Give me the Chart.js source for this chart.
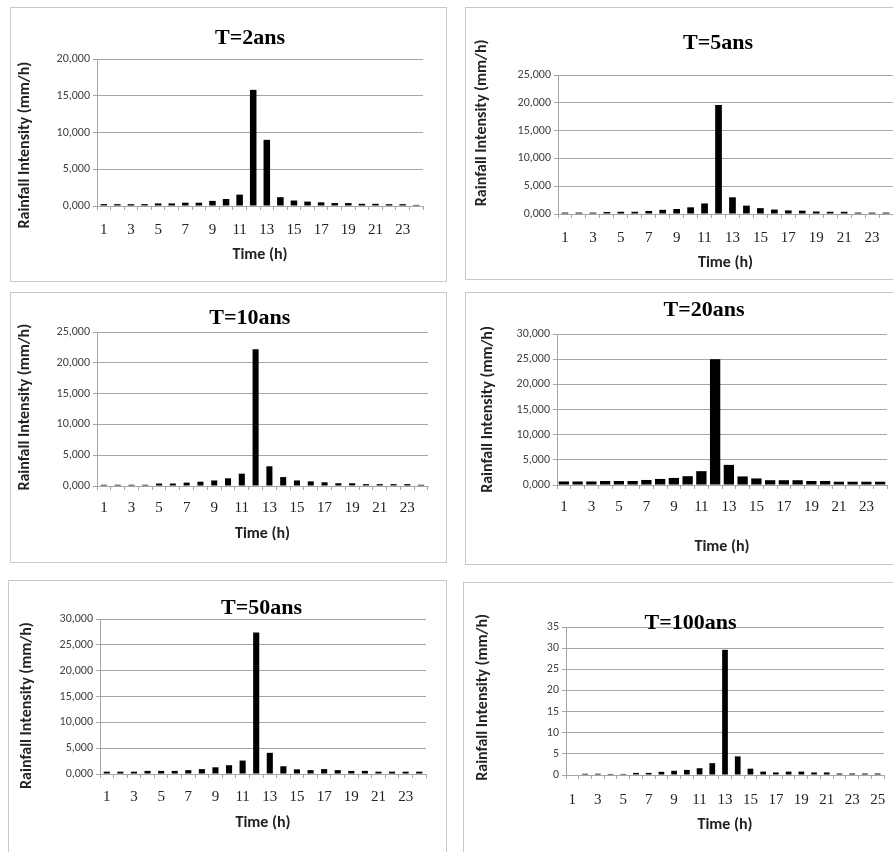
<!DOCTYPE html>
<html>
<head>
<meta charset="utf-8">
<script src="https://cdn.jsdelivr.net/npm/chart.js@4.4.1/dist/chart.umd.min.js"></script>
<style>
  body { margin: 0; background: #fff; }
  #page { position: relative; width: 893px; height: 852px; overflow: hidden; background: #fff; }
  .panel { position: absolute; border: 1px solid #c8c8c8; background: #fff; }
  .panel canvas { position: absolute; left: 0; top: 0; }
</style>
</head>
<body>
<div id="page"></div>
<script>
// categories (hours)
const hours24 = ['1','2','3','4','5','6','7','8','9','10','11','12','13','14','15','16','17','18','19','20','21','22','23','24'];
const hours25 = ['1','2','3','4','5','6','7','8','9','10','11','12','13','14','15','16','17','18','19','20','21','22','23','24','25'];

// rainfall intensity (mm/h)
const rainT2   = [0.25,0.25,0.25,0.25,0.35,0.35,0.45,0.45,0.7,0.95,1.55,15.8,9.0,1.2,0.75,0.6,0.5,0.4,0.4,0.3,0.3,0.25,0.25,0.15];
const rainT5   = [0.25,0.25,0.25,0.35,0.4,0.4,0.55,0.75,0.9,1.2,1.9,19.6,3.0,1.5,1.05,0.8,0.65,0.6,0.45,0.4,0.4,0.25,0.25,0.25];
const rainT10  = [0.2,0.2,0.2,0.2,0.4,0.4,0.55,0.7,0.9,1.25,2.0,22.2,3.2,1.45,0.9,0.75,0.6,0.45,0.45,0.3,0.3,0.3,0.3,0.2];
const rainT20  = [0.7,0.7,0.7,0.8,0.8,0.8,1.0,1.2,1.4,1.75,2.75,25.0,4.0,1.7,1.3,0.95,0.95,0.95,0.8,0.8,0.65,0.65,0.65,0.65];
const rainT50  = [0.45,0.45,0.45,0.6,0.6,0.6,0.75,0.95,1.3,1.7,2.6,27.4,4.1,1.5,0.9,0.75,0.95,0.75,0.6,0.6,0.45,0.45,0.45,0.45];
const rainT100 = [0,0.3,0.3,0.25,0.25,0.5,0.5,0.75,1.0,1.2,1.6,2.8,29.6,4.4,1.5,0.8,0.6,0.8,0.8,0.6,0.6,0.35,0.35,0.35,0.35];

// y axis ranges
const yMaxT2 = 20, yMaxT5 = 25, yMaxT10 = 25, yMaxT20 = 30, yMaxT50 = 30, yMaxT100 = 35;
const yStep = 5;

const commaFmt = v => v.toFixed(3).replace('.', ',');
const intFmt = v => String(v);

// layout of each panel on the page (page px)
// titleX/titleY: centre of chart title, yTitleX/yTitleY: centre of the rotated axis title
const panels = [
    { title: 'T=2ans', labels: hours24, data: rainT2, max: yMaxT2, fmt: commaFmt,
      box: [10, 7, 437, 275], plot: [97, 59, 423, 206], titleX: 250, titleY: 38,
      xLabelY: 230, xTitleY: 255, yTitleX: 25, yTitleY: 145, bar: 0.48 },
    { title: 'T=5ans', labels: hours24, data: rainT5, max: yMaxT5, fmt: commaFmt,
      box: [465, 7, 440, 273], plot: [558, 75, 893, 214], titleX: 719, titleY: 43,
      xLabelY: 238, xTitleY: 263, yTitleX: 482, yTitleY: 123, bar: 0.48 },
    { title: 'T=10ans', labels: hours24, data: rainT10, max: yMaxT10, fmt: commaFmt,
      box: [10, 292, 437, 271], plot: [97, 332, 428, 486], titleX: 249, titleY: 318,
      xLabelY: 508, xTitleY: 534, yTitleX: 25, yTitleY: 408, bar: 0.44 },
    { title: 'T=20ans', labels: hours24, data: rainT20, max: yMaxT20, fmt: commaFmt,
      box: [465, 292, 440, 273], plot: [557, 334, 887, 485], titleX: 703, titleY: 310,
      xLabelY: 507, xTitleY: 547, yTitleX: 488, yTitleY: 410, bar: 0.75 },
    { title: 'T=50ans', labels: hours24, data: rainT50, max: yMaxT50, fmt: commaFmt,
      box: [8, 580, 439, 290], plot: [100, 619, 426, 774], titleX: 262, titleY: 608,
      xLabelY: 797, xTitleY: 823, yTitleX: 27, yTitleY: 705, bar: 0.45 },
    { title: 'T=100ans', labels: hours25, data: rainT100, max: yMaxT100, fmt: intFmt,
      box: [463, 582, 440, 290], plot: [566, 627, 884, 775], titleX: 691, titleY: 623,
      xLabelY: 800, xTitleY: 825, yTitleX: 483, yTitleY: 698, bar: 0.45 }
];

const GRID = '#a6a6a6';
const TITLE_FONT = 22, XTICK_FONT = 15, YTICK_FONT = 12, AXIS_FONT = 16;
const serif = '"Liberation Serif", "Times New Roman", serif';
const sans = 'Carlito, Lato, sans-serif';

const page = document.getElementById('page');
const measure = document.createElement('canvas').getContext('2d');

// Chart.js centres titles on its own box; pad with spaces to move the text along it
function shiftText(text, shift, font) {
    measure.font = font;
    const sp = measure.measureText('\u00a0').width || 3;
    const n = Math.round(Math.abs(shift) * 2 / sp);
    const pad = '\u00a0'.repeat(n);
    return shift > 0 ? text + pad : pad + text;
}

panels.forEach(p => {
    const [bx, by, bw, bh] = p.box;
    const div = document.createElement('div');
    div.className = 'panel';
    div.style.left = bx + 'px';
    div.style.top = by + 'px';
    div.style.width = (bw - 2) + 'px';
    div.style.height = (bh - 2) + 'px';
    const canvas = document.createElement('canvas');
    const cw = bw - 2, ch = bh - 2;
    canvas.width = cw;
    canvas.height = ch;
    div.appendChild(canvas);
    page.appendChild(div);

    const cx = bx + 1, cy = by + 1;
    const plotL = p.plot[0] - cx, plotT = p.plot[1] - cy;
    const plotR = p.plot[2] - cx, plotB = p.plot[3] - cy;

    const titleLH = TITLE_FONT * 1.2;
    const titleTop = (p.titleY - cy) - titleLH / 2;
    const titleBottom = plotT - titleTop - titleLH;
    // the title box spans 0..plotR, so its centre sits at plotR / 2
    const titleShift = (p.titleX - cx) - plotR / 2;
    const tickLen = 4;
    const xTickPad = (p.xLabelY - cy) - plotB - tickLen - XTICK_FONT * 1.2 / 2;
    const xTitlePad = ch - (p.xTitleY - cy) - AXIS_FONT * 1.2 / 2;
    const yTitlePad = (p.yTitleX - cx) - AXIS_FONT * 1.2 / 2;
    // rotated text starts at the bottom: trailing spaces push it down
    const yTitleShift = p.yTitleY - (p.plot[1] + p.plot[3]) / 2;

    new Chart(canvas, {
        type: 'bar',
        data: {
            labels: p.labels,
            datasets: [{
                data: p.data,
                backgroundColor: '#000',
                borderWidth: 0,
                barPercentage: p.bar,
                categoryPercentage: 1
            }]
        },
        options: {
            responsive: false,
            animation: false,
            devicePixelRatio: 1,
            layout: { padding: { left: 0, top: 0, right: cw - plotR, bottom: 0 } },
            plugins: {
                legend: { display: false },
                tooltip: { enabled: false },
                title: {
                    display: true,
                    text: shiftText(p.title, -titleShift, 'bold ' + TITLE_FONT + 'px ' + serif),
                    color: '#000',
                    font: { family: serif, size: TITLE_FONT, weight: 'bold' },
                    padding: { top: titleTop, bottom: titleBottom }
                }
            },
            scales: {
                x: {
                    afterFit: s => { s.height = ch - plotB; },
                    grid: { display: true, drawOnChartArea: false, drawTicks: true, tickLength: tickLen, color: GRID, offset: true },
                    border: { display: true, color: GRID, width: 1 },
                    ticks: {
                        autoSkip: false,
                        maxRotation: 0,
                        padding: xTickPad,
                        color: '#222',
                        font: { family: serif, size: XTICK_FONT },
                        callback: (v, i) => (i % 2 === 0 ? p.labels[i] : '')
                    },
                    title: {
                        display: true,
                        text: 'Time (h)',
                        color: '#222',
                        font: { family: sans, size: AXIS_FONT, weight: 'bold' },
                        padding: { top: 0, bottom: xTitlePad }
                    }
                },
                y: {
                    min: 0,
                    max: p.max,
                    afterFit: s => { s.width = plotL; },
                    grid: { color: GRID, tickLength: tickLen, lineWidth: 1 },
                    border: { display: true, color: GRID, width: 1 },
                    ticks: {
                        stepSize: yStep,
                        padding: 3,
                        color: '#404040',
                        font: { family: sans, size: YTICK_FONT },
                        callback: v => p.fmt(v)
                    },
                    title: {
                        display: true,
                        text: shiftText('Rainfall Intensity (mm/h)', yTitleShift, 'bold ' + AXIS_FONT + 'px ' + sans),
                        color: '#222',
                        font: { family: sans, size: AXIS_FONT, weight: 'bold' },
                        padding: { top: yTitlePad, bottom: 0 }
                    }
                }
            }
        }
    });
});
</script>
</body>
</html>
